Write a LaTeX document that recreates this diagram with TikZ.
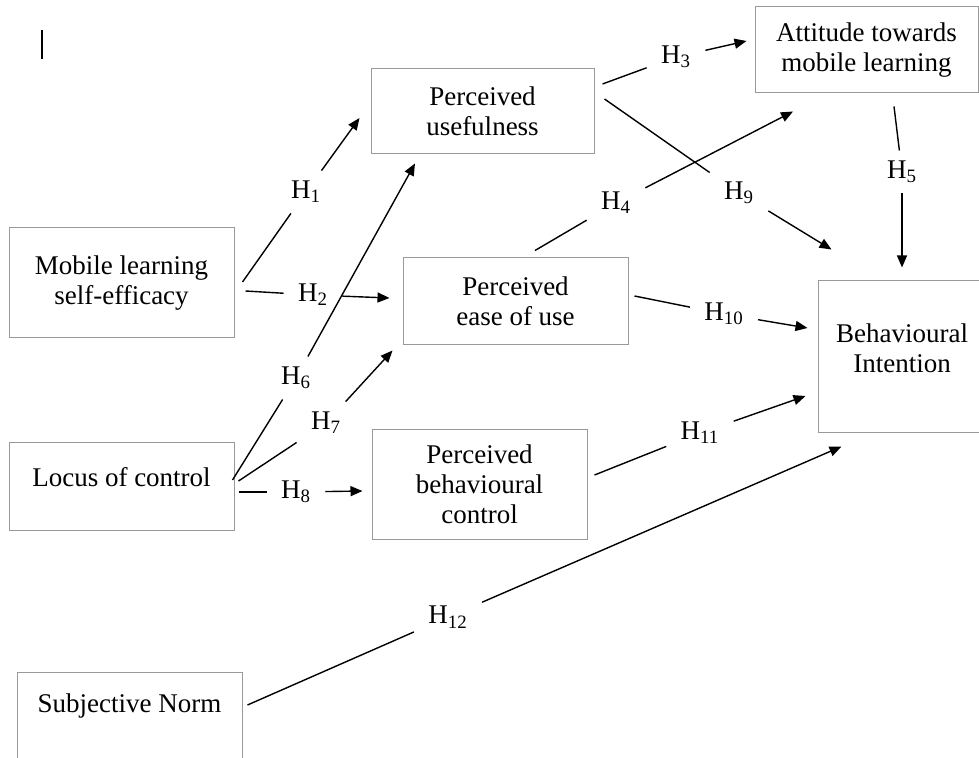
\documentclass[tikz,border=0pt]{standalone}
\usepackage{fontspec}
\setmainfont{Liberation Serif}
\usetikzlibrary{arrows.meta, calc}

\begin{document}
\begin{tikzpicture}[
    x=0.5pt, y=-0.5pt,
    font=\fontsize{13.5}{15}\selectfont,
    box/.style={draw=black!40, line width=0.5pt, align=center, inner sep=0pt},
    txt/.style={align=center, inner sep=0pt},
    hyp/.style={inner xsep=7pt, inner ysep=5pt},
    seg/.style={line width=0.7pt},
    arr/.style={-{Triangle[length=6pt, width=5pt]}, line width=0.7pt},
  ]
  \useasboundingbox (0,0) rectangle (979,758);
  % ---- cursor mark ----
  \draw[line width=0.8pt] (42,30) -- (42,59);
  % ---- constructs ----
  \node[box, minimum width=112.5pt, minimum height=55pt] (mlse) at (121.5,283) {Mobile learning\\self-efficacy};
  \node[box, minimum width=112.5pt, minimum height=43.5pt] (loc) at (121.5,486.5) {};
  \node[txt] (loctxt) at (121.5,477) {Locus of control};
  \node[box, minimum width=112.5pt, minimum height=43.5pt] (sn) at (129.5,715.5) {};
  \node[txt] (sntxt) at (129.5,706) {Subjective Norm};
  \node[box, minimum width=111.5pt, minimum height=42.5pt] (pu) at (482.5,111.5) {Perceived\\usefulness};
  \node[box, minimum width=112.5pt, minimum height=43.5pt] (peou) at (515.5,301.5) {Perceived\\ease of use};
  \node[box, minimum width=107.5pt, minimum height=54.5pt] (pbc) at (479.5,484.5) {Perceived\\behavioural\\control};
  \node[box, minimum width=111.5pt, minimum height=43pt] (att) at (866.5,50) {Attitude towards\\mobile learning};
  \node[box, minimum width=84pt, minimum height=76pt] (bi) at (902,357) {};
  \node[txt] (bitxt) at (902,348) {Behavioural\\Intention};
  % ---- hypothesis labels ----
  \node[hyp] (h1) at (306,192) {H\textsubscript{1}};
  \node[hyp] (h2) at (313,295) {H\textsubscript{2}};
  \node[hyp] (h3) at (676,57) {H\textsubscript{3}};
  \node[hyp] (h4) at (616,203) {H\textsubscript{4}};
  \node[hyp] (h5) at (902,172) {H\textsubscript{5}};
  \node[hyp] (h6) at (296,378) {H\textsubscript{6}};
  \node[hyp] (h7) at (326,423) {H\textsubscript{7}};
  \node[hyp] (h8) at (296,492) {H\textsubscript{8}};
  \node[hyp] (h9) at (739,193) {H\textsubscript{9}};
  \node[hyp] (h10) at (724,314) {H\textsubscript{10}};
  \node[hyp] (h11) at (700,433) {H\textsubscript{11}};
  \node[hyp] (h12) at (448,617) {H\textsubscript{12}};
  % ---- paths ----
  \draw[seg] ($(mlse.east)+(8,-1)$) -- (h1);
  \draw[arr] (h1) -- ($(pu.west)+(-11,6.5)$);
  \draw[seg] ($(mlse.east)+(11,8)$) -- (h2);
  \draw[arr] (h2) -- ($(peou.west)+(-13,-3.5)$);
  \draw[seg] ($(pu.east)+(8,-27.5)$) -- (h3);
  \draw[arr] (h3) -- ($(att.west)+(-8,-9)$);
  \draw[seg] ($(peou.north)+(19.5,-7)$) -- (h4);
  \draw[arr] (h4) -- ($(att.south)+(-73.5,18)$);
  \draw[seg] ($(att.south)+(27.5,13)$) -- (h5);
  \draw[arr] (h5) -- ($(bi.north)+(0,-13)$);
  \draw[seg] ($(loc.east)+(-2,-6.5)$) -- (h6);
  \draw[arr] (h6) -- ($(pu.south)+(-67.5,9)$);
  \draw[seg] ($(loc.east)+(4,-5.5)$) -- (h7);
  \draw[arr] (h7) -- ($(peou.south west)+(-10,5)$);
  \draw[seg] ($(loc.east)+(4,5.5)$) -- (h8);
  \draw[arr] (h8) -- ($(pbc.west)+(-9,6.5)$);
  \draw[seg] ($(pu.east)+(10,-12.5)$) -- (h9);
  \draw[arr] (h9) -- ($(bi.north west)+(14,-31)$);
  \draw[seg] ($(peou.east)+(6,-5.5)$) -- (h10);
  \draw[arr] (h10) -- ($(bi.west)+(-10,-29)$);
  \draw[seg] ($(pbc.east)+(7,-9.5)$) -- (h11);
  \draw[arr] (h11) -- ($(bi.west)+(-12,39)$);
  \draw[seg] ($(sn.east)+(5,-10.5)$) -- (h12);
  \draw[arr] (h12) -- ($(bi.south west)+(24,13)$);
\end{tikzpicture}
\end{document}
